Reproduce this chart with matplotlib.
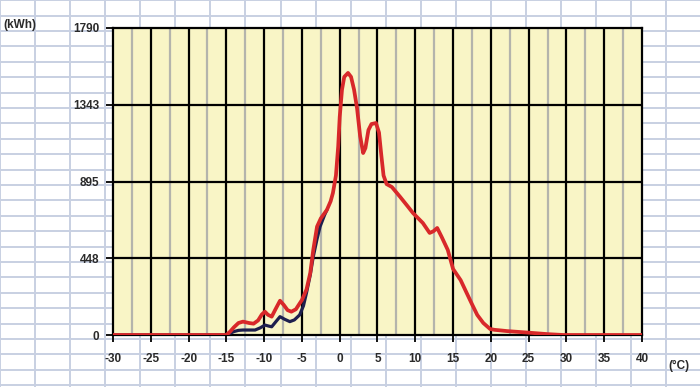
import matplotlib.pyplot as plt
import numpy as np

# temperature (°C) and energy (kWh)
temp_red = [-30, -15, -14.5, -14.0, -13.4, -12.8, -12.0, -11.4, -10.8, -10.3, -9.9, -9.5, -9.0,
            -8.5, -7.9, -7.4, -6.9, -6.4, -5.8, -5.0, -4.4, -3.9, -3.5, -3.0, -2.5, -1.7,
            -1.2, -0.9, -0.5, -0.2, 0.0, 0.3, 0.6, 1.1, 1.5, 1.9, 2.3, 2.7, 3.1, 3.4, 3.8,
            4.2, 4.8, 5.2, 5.5, 5.8, 6.2, 6.9, 8.0, 9.0, 9.7, 11.0, 11.9, 12.4, 12.9, 13.5,
            14.3, 15.0, 16.0, 16.8, 17.5, 18.2, 19.0, 19.9, 20.5, 21.0, 22.1, 25.2, 27.5,
            29.6, 40]
kwh_red = [0, 0, 20, 45, 70, 78, 70, 66, 85, 120, 136, 118, 107,
           150, 200, 175, 145, 136, 150, 204, 265, 361, 496, 632, 680, 729,
           780, 828, 930, 1100, 1271, 1430, 1505, 1528, 1505, 1430, 1320, 1160, 1061, 1090, 1195,
           1230, 1236, 1180, 1050, 930, 880, 863, 805, 750, 711, 653, 595, 605, 624, 571,
           496, 385, 320, 245, 180, 117, 70, 35, 30, 28, 23, 13, 5,
           0, 0]

temp_navy = [-30, -15, -14.5, -14.0, -13.4, -12.8, -11.2, -10.5, -9.9, -9.4, -9.0, -8.5, -7.9,
             -7.3, -6.6, -6.0, -5.3, -4.8, -4.4, -3.9, -3.5, -3.0, -2.6, -2.0, -1.7]
kwh_navy = [0, 0, 10, 20, 27, 29, 29, 42, 58, 52, 48, 75, 107,
            92, 78, 88, 117, 170, 245, 350, 457, 560, 632, 700, 729]

x_ticks = [-30, -25, -20, -15, -10, -5, 0, 5, 10, 15, 20, 25, 30, 35, 40]
y_ticks = [0, 448, 895, 1343, 1790]

plt.rcParams['font.family'] = ['Liberation Sans', 'DejaVu Sans']

fig = plt.figure(figsize=(7, 3.87), dpi=100)

# spreadsheet-like background grid
bg = fig.add_axes([0, 0, 1, 1], zorder=0)
bg.set_xlim(0, 700)
bg.set_ylim(387, 0)
bg.axis('off')
for gx in np.arange(0, 701, 35.07):
    bg.axvline(gx, color='#c8d0e2', lw=1.4)
for gy in np.arange(0.2, 388, 15.4):
    bg.axhline(gy, color='#c8d0e2', lw=1.4)

ax = fig.add_axes([113 / 700, 52 / 387, 529 / 700, 307 / 387], zorder=1)
ax.set_facecolor('#f9f5c6')
ax.set_xlim(-30, 40)
ax.set_ylim(0, 1790)

for xm in np.arange(-27.5, 40, 5):
    ax.axvline(xm, color='#b4b4ac', lw=1.6, zorder=1)
for xm in x_ticks[1:-1]:
    ax.axvline(xm, color='black', lw=1.6, zorder=2)
for ym in y_ticks[1:-1]:
    ax.axhline(ym, color='black', lw=1.6, zorder=2)

ax.plot(temp_navy, kwh_navy, color='#1e1f4e', lw=2.3, zorder=3,
        solid_capstyle='round', solid_joinstyle='round')
ax.plot(temp_red, kwh_red, color='#d8282a', lw=2.7, zorder=4,
        solid_capstyle='round', solid_joinstyle='round')

for s in ax.spines.values():
    s.set_linewidth(1.6)
    s.set_color('black')

ax.set_xticks(x_ticks)
ax.set_yticks(y_ticks)
ax.set_xticklabels([str(v) for v in x_ticks])
ax.set_yticklabels([str(v) for v in y_ticks])
ax.tick_params(axis='both', direction='out', length=5, width=1.3, color='black',
               labelsize=8.5, labelcolor='#2a2a2a')
ax.tick_params(axis='x', pad=8)
ax.tick_params(axis='y', pad=5)
for lbl in ax.get_xticklabels() + ax.get_yticklabels():
    lbl.set_fontweight('bold')

fig.text(3 / 700, 1 - 25 / 387, '(kWh)', fontsize=8.5, fontweight='bold', color='#2a2a2a',
         va='center', ha='left')
fig.text(668 / 700, 1 - 366 / 387, '(°C)', fontsize=8.5, fontweight='bold', color='#2a2a2a',
         va='center', ha='left')

fig.savefig('out.png', dpi=100)
